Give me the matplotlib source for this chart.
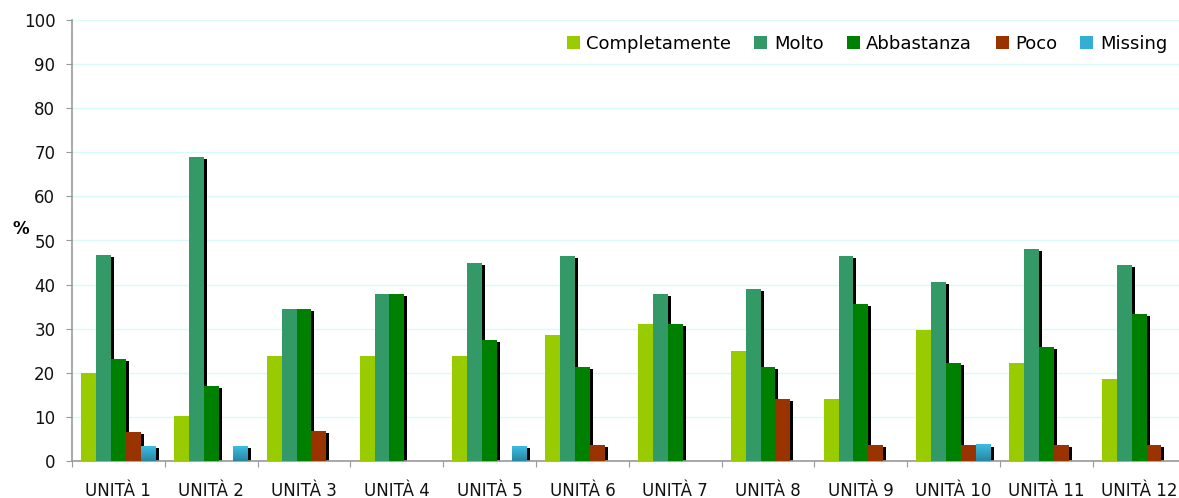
import numpy as np
import matplotlib
matplotlib.use("Agg")
import matplotlib.pyplot as plt
from matplotlib.patches import Patch
from matplotlib.colors import LinearSegmentedColormap

# data (percentages)
units = ["UNITÀ %d" % i for i in range(1, 13)]
series_names = ["Completamente", "Molto", "Abbastanza", "Poco", "Missing"]
completamente = [20.0, 10.2, 23.9, 23.9, 23.9, 28.6, 31.1, 25.0, 14.1, 29.6, 22.2, 18.6]
molto = [46.6, 68.9, 34.5, 37.9, 44.8, 46.4, 37.9, 39.1, 46.4, 40.7, 48.1, 44.4]
abbastanza = [23.2, 17.0, 34.5, 37.9, 27.5, 21.4, 31.1, 21.4, 35.7, 22.2, 25.9, 33.3]
poco = [6.6, 0, 6.9, 0, 0, 3.6, 0, 14.1, 3.6, 3.7, 3.7, 3.7]
missing = [3.4, 3.4, 0, 0, 3.4, 0, 0, 0, 0, 3.7, 0, 0]
colors = ["#99cc00", "#339966", "#008000", "#993300", "#33aed4"]

series = [completamente, molto, abbastanza, poco, missing]

plt.rcParams["font.family"] = ["DejaVu Sans"]

W, H = 1179, 498
fig = plt.figure(figsize=(W / 100, H / 100), dpi=100)
# axes runs a bit past the right edge, as in the reference
ax = fig.add_axes([72 / W, 37 / H, 1113.6 / W, 441 / H])

x = np.arange(len(units))
bw = 0.16
dx = 3 / 92.8   # shadow offset, about 3 px right
dy = 2 / 4.41   # and 2 px down

# blue gradient for the Missing bars
blue_grad = LinearSegmentedColormap.from_list("bg", ["#2a86a3", "#3dbde2"])
grad = np.linspace(1, 0, 50).reshape(-1, 1)

for k, (vals, col) in enumerate(zip(series, colors)):
    left = x + 0.1 + k * bw
    vals = np.array(vals)
    sh = np.clip(vals - dy, 0, None)
    sh[vals == 0] = 0
    ax.bar(left + dx, sh, width=bw, align="edge", color="black", zorder=2, linewidth=0)
    if series_names[k] == "Missing":
        for l, v in zip(left, vals):
            if v > 0:
                ax.imshow(grad, cmap=blue_grad, extent=[l, l + bw, 0, v],
                          aspect="auto", zorder=3, interpolation="bilinear")
    else:
        ax.bar(left, vals, width=bw, align="edge", color=col, zorder=3, linewidth=0)

ax.set_xlim(0, len(units))
ax.set_ylim(0, 100)
ax.set_yticks(range(0, 101, 10))
ax.yaxis.grid(True, color="#d9fafa", linewidth=1)
ax.set_axisbelow(True)

ax.set_xticks(range(0, len(units) + 1))
ax.set_xticklabels([])
ax.set_xticks(x + 0.5, minor=True)
ax.set_xticklabels(units, minor=True)
ax.tick_params(axis="x", which="major", length=4, color="#999999", direction="out")
ax.tick_params(axis="x", which="minor", length=0, pad=15, labelsize=12, labelcolor="#111111")
ax.tick_params(axis="y", length=4, color="#999999", pad=8, labelsize=12, labelcolor="#111111")

for s in ["top", "right"]:
    ax.spines[s].set_visible(False)
for s in ["left", "bottom"]:
    ax.spines[s].set_color("#999999")
    ax.spines[s].set_linewidth(1.2)

fig.text(21 / W, 1 - 229 / H, "%", ha="center", va="center", fontsize=12, fontweight="bold")

handles = [Patch(facecolor=c, edgecolor="none") for c in colors]
fig.legend(handles, series_names, loc="center right", bbox_to_anchor=(1167 / W, 1 - 44 / H),
           ncol=5, frameon=False, fontsize=13, handlelength=0.72, handleheight=0.72,
           handletextpad=0.35, columnspacing=1.3, borderpad=0, borderaxespad=0)

fig.savefig("out.png", dpi=100)
